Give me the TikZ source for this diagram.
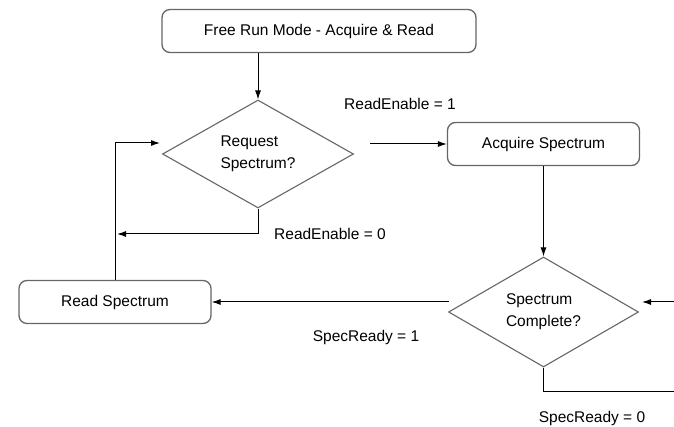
\documentclass[tikz,border=0pt]{standalone}
\usepackage{fontspec}
\setmainfont{Liberation Sans}
\usetikzlibrary{calc, arrows.meta, shapes.geometric}

\begin{document}
\begin{tikzpicture}[x=1pt,y=-1pt,>={Latex[length=9pt,width=6pt]},font=\fontsize{15.5}{22}\selectfont,
  box/.style={draw=black!60,line width=1.3pt,rounded corners=8pt,minimum height=43pt,inner sep=0pt},
  decision/.style={draw=black!60,line width=1.1pt,diamond,aspect=1.77,inner sep=0pt,align=left},
  link/.style={line width=1pt}]
\useasboundingbox (0,0) rectangle (674,427);
% states
\node [box,minimum width=314pt] (top)  at (319,31)    {Free Run Mode - Acquire \& Read};
\node [box,minimum width=192pt] (acq)  at (543.5,144) {Acquire Spectrum};
\node [box,minimum width=192pt] (read) at (115,302)   {Read Spectrum};
% decisions
\node [decision,minimum width=191pt,minimum height=108pt] (req)  at (258,154)   {Request\\Spectrum?};
\node [decision,minimum width=190pt,minimum height=110pt] (comp) at (543.5,312) {Spectrum\\Complete?};
% loose ends
\coordinate (reqout)  at (370,144);
\coordinate (reqin)   at (160,143);
\coordinate (readin)  at (117,234);
\coordinate (compout) at (449,302);
\coordinate (compin)  at (642,302);
\coordinate (edgein)  at (674,302);
\coordinate (specout) at (674,391);
% flow
\draw [link,->] (top.south -| req.north) -- (req.north);
\draw [link,->] (reqout) -- (acq.west);
\draw [link,->] (req.south) |- (readin);
\draw [link,->] (read.north) |- (reqin);
\draw [link,->] (acq.south) -- (comp.north);
\draw [link,->] (compout) -- (read.east);
\draw [link,->] (edgein) -- (compin);
\draw [link] (comp.south) |- (specout);
% conditions
\node (en1) at (400,104) {ReadEnable = 1};
\node (en0) at (330,234) {ReadEnable = 0};
\node (rdy1) at (366,337) {SpecReady = 1};
\node (rdy0) at (592,418) {SpecReady = 0};
\end{tikzpicture}
\end{document}
